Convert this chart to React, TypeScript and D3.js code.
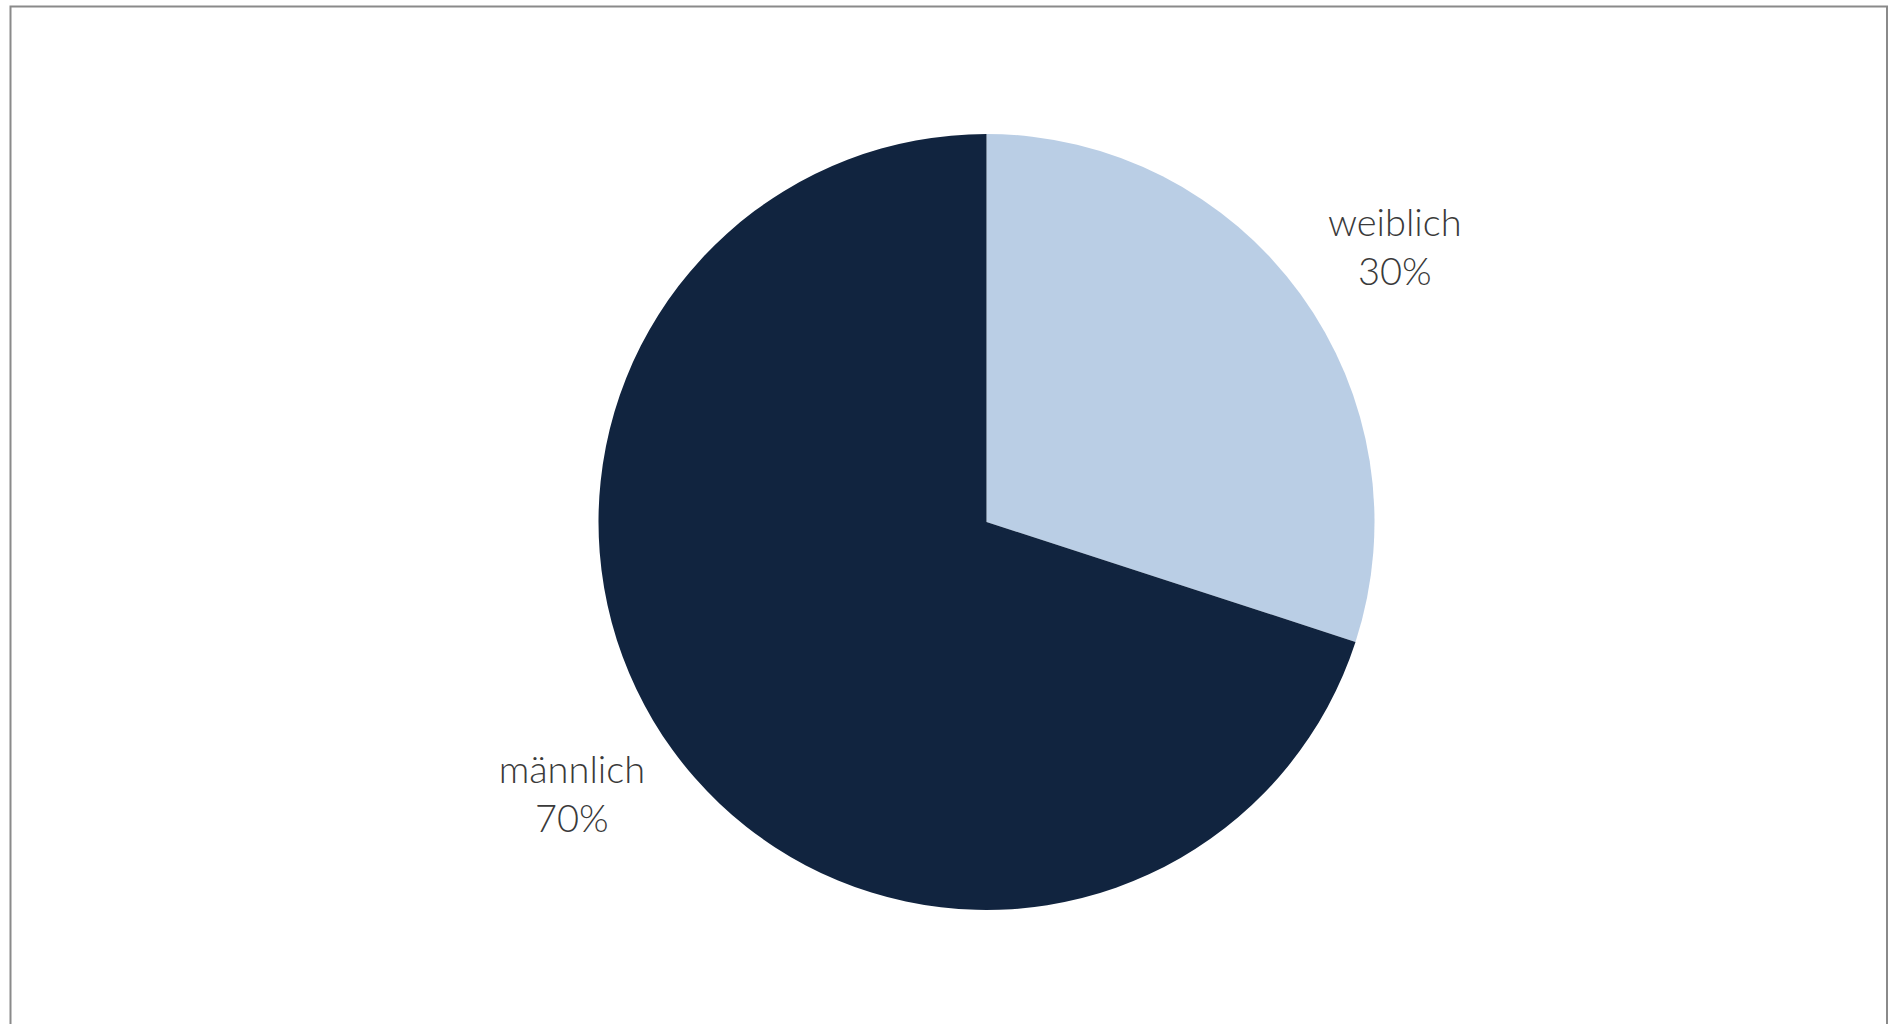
import React, { useMemo } from "react";
import * as d3 from "d3";

const categories = ["weiblich", "männlich"];
const values = [30, 70];
const percentLabels = ["30%", "70%"];
const colors = ["#BACEE5", "#11243F"];

const W = 1888;
const H = 1024;
const CX = 986.5;
const CY = 522;
const R = 388;
const LABEL_FONT = 38;
const LABEL_WEIGHT = 300;
const FONT_FAMILY = "Lato";

function measure(text: string): number {
  const c = document.createElement("canvas").getContext("2d");
  if (!c) return text.length * LABEL_FONT * 0.45;
  c.font = `${LABEL_WEIGHT} ${LABEL_FONT}px ${FONT_FAMILY}`;
  return c.measureText(text).width;
}

export default function App() {
  const arcs = useMemo(() => {
    const pie = d3
      .pie<number>()
      .sort(null)
      .value((d) => d)
      .startAngle(0)
      .endAngle(2 * Math.PI);
    return pie(values);
  }, []);

  const arcGen = d3.arc<d3.PieArcDatum<number>>().innerRadius(0).outerRadius(R);
  const labelDist = R + 34;

  return (
    <svg
      width={W}
      height={H}
      style={{ position: "absolute", left: 0, top: 0, background: "#fff" }}
    >
      <rect
        x={10.5}
        y={6.5}
        width={1876.5}
        height={1200}
        fill="#fff"
        stroke="#8a8a8a"
        strokeWidth={2}
      />
      <g transform={`translate(${CX},${CY})`}>
        {arcs.map((a, i) => (
          <path key={categories[i]} d={arcGen(a) || ""} fill={colors[i]} />
        ))}
      </g>
      {arcs.map((a, i) => {
        const mid = (a.startAngle + a.endAngle) / 2;
        const ux = Math.sin(mid);
        const uy = -Math.cos(mid);
        const w = Math.max(measure(categories[i]), measure(percentLabels[i]));
        const bx = CX + ux * labelDist + Math.sign(ux) * (w / 2);
        const by = CY + uy * labelDist + Math.sign(uy) * 25;
        return (
          <text
            key={"l" + i}
            textAnchor="middle"
            fontFamily={FONT_FAMILY}
            fontWeight={LABEL_WEIGHT}
            fontSize={LABEL_FONT}
            fill="#3a3a3a"
          >
            <tspan x={bx} y={by - 12.5}>
              {categories[i]}
            </tspan>
            <tspan x={bx} y={by + 36.5}>
              {percentLabels[i]}
            </tspan>
          </text>
        );
      })}
    </svg>
  );
}
